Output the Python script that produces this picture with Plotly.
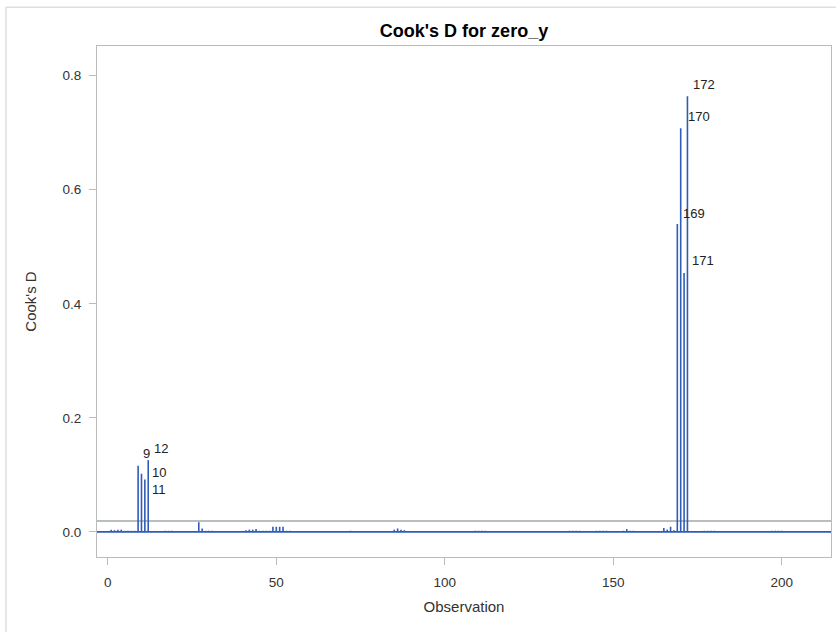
import plotly.graph_objects as go

# Observations with a visible Cook's D needle (others are ~0)
obs = [1, 2, 3, 4, 5, 6, 7, 8, 9, 10, 11, 12, 17, 18, 19, 27, 28, 29, 30, 31,
       41, 42, 43, 44, 45, 46, 47, 48, 49, 50, 51, 52, 53, 54, 55, 72,
       85, 86, 87, 88, 100, 109, 110, 111, 112, 137, 138, 139, 140,
       145, 146, 147, 148, 153, 154, 155, 156, 165, 166, 167, 168,
       169, 170, 171, 172, 177, 178, 179, 180, 197, 198, 199, 200]
cooks_d = [0.004, 0.003, 0.004, 0.004, 0.002, 0.002, 0.002, 0.002,
           0.116, 0.102, 0.092, 0.126,
           0.002, 0.002, 0.002, 0.017, 0.006, 0.002, 0.002, 0.002,
           0.003, 0.004, 0.004, 0.005, 0.002, 0.002, 0.002, 0.002,
           0.009, 0.009, 0.009, 0.009, 0.002, 0.002, 0.001, 0.002,
           0.004, 0.006, 0.004, 0.003, 0.001, 0.002, 0.002, 0.002, 0.002,
           0.002, 0.002, 0.002, 0.002,
           0.002, 0.002, 0.002, 0.002, 0.002, 0.005, 0.002, 0.002,
           0.007, 0.004, 0.009, 0.003,
           0.540, 0.708, 0.454, 0.764,
           0.002, 0.002, 0.002, 0.002, 0.002, 0.002, 0.002, 0.002]
threshold = 0.019  # 4/n reference line

label_obs = [9, 10, 11, 12, 169, 170, 171, 172]
# label offsets in pixels (style only)
label_xshift = [3, 9, 5, 4, 4, 5, 6, 4]
label_yshift = [12, 1, -10, 12, 10, 12, 12, 12]

x_ticks = [0, 50, 100, 150, 200]
y_ticks = [0.0, 0.2, 0.4, 0.6, 0.8]

BLUE = "#2f5cb5"
FRAME = "#b8bcbc"
FONT = "Liberation Sans, Arial, sans-serif"

fig = go.Figure()
fig.add_trace(go.Scatter(
    x=obs, y=cooks_d, mode="markers",
    marker=dict(size=1, color="rgba(0,0,0,0)"),
    error_y=dict(type="data", symmetric=False, array=[0] * len(cooks_d),
                 arrayminus=cooks_d, thickness=1.6, width=0, color=BLUE),
    hoverinfo="x+y", showlegend=False,
))

annotations = []
for o, xs, ys in zip(label_obs, label_xshift, label_yshift):
    d = cooks_d[obs.index(o)]
    annotations.append(dict(
        x=o, y=d, xref="x", yref="y", text=str(o), showarrow=False,
        xanchor="left", yanchor="middle", xshift=xs, yshift=ys,
        font=dict(family=FONT, size=13, color="#222222"),
    ))

shapes = [
    # reference line
    dict(type="line", xref="paper", yref="y", x0=0, x1=1, y0=threshold, y1=threshold,
         line=dict(color="#a3a8a8", width=1.6), layer="below"),
    # needle baseline
    dict(type="line", xref="paper", yref="y", x0=0, x1=1, y0=0, y1=0,
         line=dict(color=BLUE, width=1.6), layer="above"),
    # outer figure border
    dict(type="rect", xref="paper", yref="paper", x0=-0.124, x1=1.3, y0=-0.4, y1=1.076,
         line=dict(color="#cfcfcf", width=1), layer="below"),
]

fig.update_layout(
    width=836, height=632,
    margin=dict(l=97, r=5, t=46, b=75),
    paper_bgcolor="white", plot_bgcolor="white",
    font=dict(family=FONT, size=13, color="#333333"),
    title=dict(text="<b>Cook's D for zero_y</b>", x=0.5, xanchor="center",
               xref="paper", y=1 - 31 / 632, yanchor="middle",
               font=dict(family=FONT, size=18, color="#000000")),
    annotations=annotations,
    shapes=shapes,
    xaxis=dict(
        range=[-3.2, 214.6], tickvals=x_ticks, ticktext=[str(v) for v in x_ticks],
        showgrid=False, zeroline=False, showline=True, mirror=True,
        linecolor=FRAME, linewidth=1.2, ticks="outside", ticklen=7,
        tickcolor=FRAME, tickfont=dict(size=13.5, color="#333333"),
        ticklabelstandoff=6,
        title=dict(text="Observation", font=dict(size=15, color="#333333"), standoff=12),
    ),
    yaxis=dict(
        range=[-0.044, 0.852], tickvals=y_ticks, tickformat=".1f",
        showgrid=False, zeroline=False, showline=True, mirror=True,
        linecolor=FRAME, linewidth=1.2, ticks="outside", ticklen=7,
        tickcolor=FRAME, tickfont=dict(size=13.5, color="#333333"),
        ticklabelstandoff=5,
        title=dict(text="Cook's D", font=dict(size=15, color="#333333"), standoff=22),
    ),
)

fig.write_html("out.html")
